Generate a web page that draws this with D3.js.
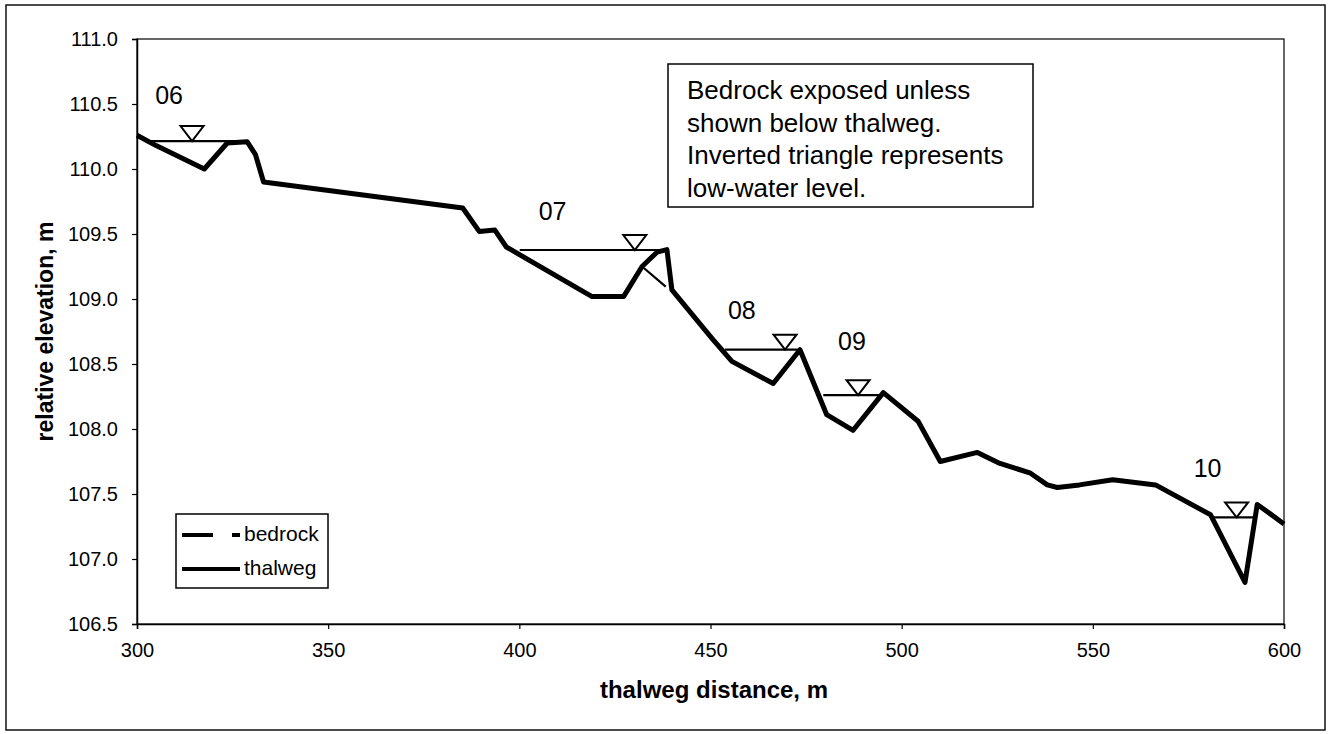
<!DOCTYPE html>
<html>
<head>
<meta charset="utf-8">
<script src="https://cdn.jsdelivr.net/npm/d3@7"></script>
<style>
  html, body { margin: 0; padding: 0; background: #fff; }
  svg { display: block; font-family: "Liberation Sans", Arial, sans-serif; }
</style>
</head>
<body>
<svg id="chart" width="1330" height="734"></svg>
<script>
// Longitudinal profile: thalweg and bedrock, with pool low-water levels
const thalwegDist = [300, 305, 317.6, 323.6, 328.8, 331, 333.1, 385.2, 389.5, 393.6, 396.6,
  418.9, 427.3, 432.1, 436, 438.6, 439.9, 450.6, 455.6, 466.4, 473.4, 480.4, 487.3, 495.2,
  504.3, 510.1, 519.8, 525.3, 533.7, 538.1, 540.7, 546.5, 555.2, 566.4, 580.8, 589.8, 593, 600];
const thalwegElev = [110.26, 110.18, 110.0, 110.2, 110.21, 110.11, 109.9, 109.7, 109.52, 109.53, 109.4,
  109.02, 109.02, 109.25, 109.36, 109.38, 109.07, 108.69, 108.52, 108.35, 108.61, 108.11, 107.99, 108.28,
  108.06, 107.75, 107.82, 107.74, 107.66, 107.57, 107.55, 107.57, 107.61, 107.57, 107.34, 106.82, 107.42, 107.27];

const bedrockDist = [432.1, 438.5, 439.9, 450.6, 455.6];
const bedrockElev = [109.25, 109.09, 109.07, 108.69, 108.52];

// Pools: name, low-water level, wetted extent, marker position, label anchor
const poolNames = ["06", "07", "08", "09", "10"];
const waterElev = [110.215, 109.377, 108.61, 108.26, 107.32];
const waterFrom = [302.4, 400.1, 453.8, 479.5, 581.4];
const waterTo = [328.8, 438.6, 473.4, 495.2, 592.6];
const markerDist = [314.4, 430.2, 469.5, 488.6, 587.6];
const labelDist = [308.4, 408.7, 458.2, 487.0, 580.0];
const labelElev = [110.55, 109.66, 108.90, 108.66, 107.68];

const xTicks = [300, 350, 400, 450, 500, 550, 600];
const yTicks = [106.5, 107.0, 107.5, 108.0, 108.5, 109.0, 109.5, 110.0, 110.5, 111.0];

const noteLines = ["Bedrock exposed unless", "shown below thalweg.",
  "Inverted triangle represents", "low-water level."];

const svg = d3.select("#chart");
const W = 1330, H = 734;
const plot = { left: 137, right: 1284, top: 39, bottom: 624 };

svg.append("rect").attr("width", W).attr("height", H).attr("fill", "#fff");
// outer chart frame
svg.append("rect").attr("x", 6).attr("y", 5).attr("width", 1319).attr("height", 725)
  .attr("fill", "none").attr("stroke", "#111").attr("stroke-width", 1.5);

const x = d3.scaleLinear().domain([300, 600]).range([plot.left, plot.right]);
const y = d3.scaleLinear().domain([106.5, 111.0]).range([plot.bottom, plot.top]);

// plot area frame
svg.append("rect").attr("x", plot.left).attr("y", plot.top)
  .attr("width", plot.right - plot.left).attr("height", plot.bottom - plot.top)
  .attr("fill", "none").attr("stroke", "#000").attr("stroke-width", 1.2);

const xAxis = svg.append("g").attr("transform", `translate(0,${plot.bottom})`)
  .call(d3.axisBottom(x).tickValues(xTicks).tickFormat(d3.format("d")).tickSizeOuter(0).tickSize(5).tickPadding(14));
const yAxis = svg.append("g").attr("transform", `translate(${plot.left},0)`)
  .call(d3.axisLeft(y).tickValues(yTicks).tickFormat(d3.format(".1f")).tickSizeOuter(0).tickSize(5).tickPadding(14));
[xAxis, yAxis].forEach(g => {
  g.selectAll("path.domain").attr("stroke", "#000").attr("stroke-width", 1.5);
  g.selectAll("line").attr("stroke", "#000").attr("stroke-width", 1.2);
  g.selectAll("text").attr("font-size", 20).attr("fill", "#000")
    .attr("font-family", "'Liberation Sans', Arial, sans-serif");
});

svg.append("text").attr("x", 714).attr("y", 698)
  .attr("text-anchor", "middle").attr("font-size", 24).attr("font-weight", "bold")
  .text("thalweg distance, m");
svg.append("text").attr("transform", `translate(53,${(plot.top + plot.bottom) / 2}) rotate(-90)`)
  .attr("text-anchor", "middle").attr("font-size", 23).attr("font-weight", "bold")
  .text("relative elevation, m");

// low-water surfaces
const pools = poolNames.map((name, i) => ({
  name, level: waterElev[i], from: waterFrom[i], to: waterTo[i],
  marker: markerDist[i], lx: labelDist[i], ly: labelElev[i]
}));
svg.append("g").selectAll("line").data(pools).join("line")
  .attr("x1", d => x(d.from)).attr("x2", d => x(d.to))
  .attr("y1", d => y(d.level)).attr("y2", d => y(d.level))
  .attr("stroke", "#000").attr("stroke-width", 2.2);

const line = d3.line().x(d => x(d[0])).y(d => y(d[1]));

// bedrock (dashed)
svg.append("path")
  .datum(bedrockDist.map((d, i) => [d, bedrockElev[i]]))
  .attr("d", line).attr("fill", "none").attr("stroke", "#000")
  .attr("stroke-width", 2.2).attr("stroke-dasharray", "31,19");

// thalweg
svg.append("path")
  .datum(thalwegDist.map((d, i) => [d, thalwegElev[i]]))
  .attr("d", line).attr("fill", "none").attr("stroke", "#000")
  .attr("stroke-width", 5).attr("stroke-linejoin", "round");

// inverted-triangle markers sitting on the water surface
const tw = 23, th = 15;
svg.append("g").selectAll("path").data(pools).join("path")
  .attr("d", d => {
    const cx = x(d.marker), cy = y(d.level);
    return `M${cx - tw / 2},${cy - th} L${cx + tw / 2},${cy - th} L${cx},${cy} Z`;
  })
  .attr("fill", "#fff").attr("stroke", "#000").attr("stroke-width", 2);

svg.append("g").selectAll("text").data(pools).join("text")
  .attr("x", d => x(d.lx)).attr("y", d => y(d.ly))
  .attr("text-anchor", "middle").attr("dominant-baseline", "middle")
  .attr("font-size", 25).text(d => d.name);

// note box
const note = svg.append("g");
note.append("rect").attr("x", 668).attr("y", 64).attr("width", 365).attr("height", 143)
  .attr("fill", "#fff").attr("stroke", "#000").attr("stroke-width", 1.5);
note.selectAll("text").data(noteLines).join("text")
  .attr("x", 687).attr("y", (d, i) => 99 + i * 32.5)
  .attr("font-size", 26).text(d => d);

// legend
const legend = svg.append("g");
legend.append("rect").attr("x", 176).attr("y", 514).attr("width", 152).attr("height", 74)
  .attr("fill", "#fff").attr("stroke", "#000").attr("stroke-width", 1.5);
const legendItems = [
  { label: "bedrock", dash: "31,19", yy: 535 },
  { label: "thalweg", dash: null, yy: 569 }
];
legendItems.forEach(it => {
  legend.append("line").attr("x1", 182).attr("x2", 240).attr("y1", it.yy).attr("y2", it.yy)
    .attr("stroke", "#000").attr("stroke-width", 4)
    .attr("stroke-dasharray", it.dash);
  legend.append("text").attr("x", 244).attr("y", it.yy).attr("dominant-baseline", "middle")
    .attr("font-size", 21).text(it.label);
});
</script>
</body>
</html>
